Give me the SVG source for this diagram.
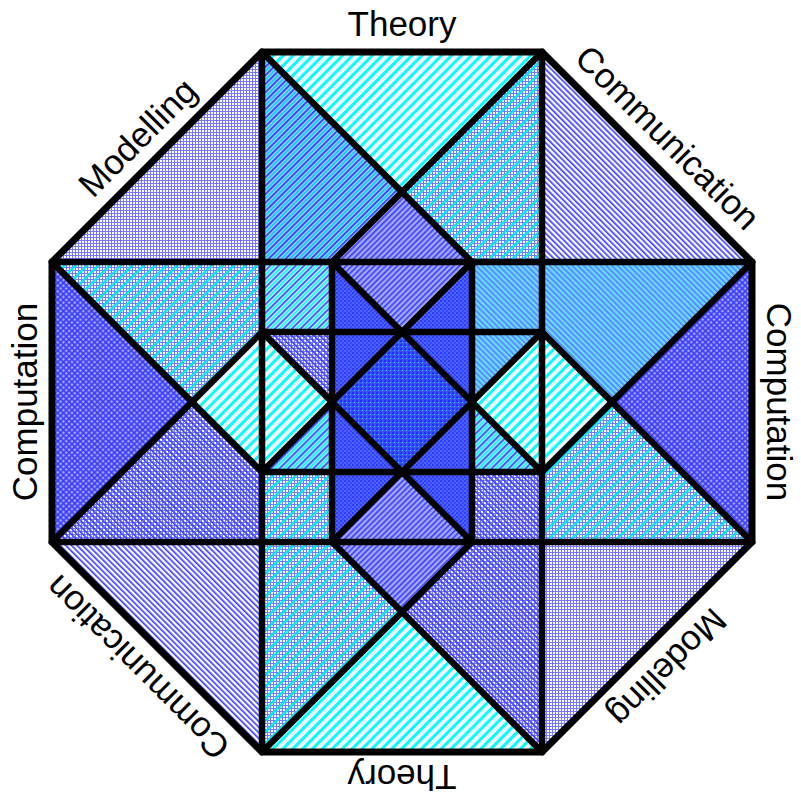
<svg xmlns="http://www.w3.org/2000/svg" xmlns:xlink="http://www.w3.org/1999/xlink" width="801" height="798" viewBox="0 0 801 798">
<style>
.lbl{font-family:"Liberation Sans",Arial,sans-serif;font-size:35px;fill:#000;text-anchor:middle}
.ln{stroke:#000;stroke-width:6.5;stroke-linecap:round;fill:none}
.oct{stroke:#000;stroke-width:7;fill:none;stroke-linejoin:miter}
</style>
<defs>
<pattern id="lav" width="3" height="3" patternUnits="userSpaceOnUse"><rect width="3" height="3" fill="#fff"/><rect width="3" height="1" fill="#7878ff"/><rect width="1" height="3" fill="#7878ff"/></pattern>
<pattern id="sCy" width="7" height="7" patternUnits="userSpaceOnUse" patternTransform="rotate(45)"><rect width="3" height="7" fill="#00ffff"/></pattern>
<pattern id="sCy8" width="8" height="8" patternUnits="userSpaceOnUse" patternTransform="rotate(45)"><rect width="2.5" height="8" fill="#00e8ff"/></pattern>
<pattern id="sBlB" width="4" height="4" patternUnits="userSpaceOnUse" patternTransform="rotate(-45)"><rect width="1.6" height="4" fill="#3a3aff"/></pattern>
<pattern id="sBlF" width="4" height="4" patternUnits="userSpaceOnUse" patternTransform="rotate(45)"><rect width="1.6" height="4" fill="#3a3aff"/></pattern>
<pattern id="sBC" width="6" height="6" patternUnits="userSpaceOnUse" patternTransform="rotate(45)"><rect width="1.8" height="6" fill="#2e58ff"/><rect x="3" width="1.8" height="6" fill="#00ffff"/></pattern>
<pattern id="sBC2" width="6" height="6" patternUnits="userSpaceOnUse" patternTransform="rotate(45)"><rect width="2" height="6" fill="#3050ff"/><rect x="3" width="2" height="6" fill="#10d0ff"/></pattern>
<pattern id="sDk" width="4" height="4" patternUnits="userSpaceOnUse"><rect width="4" height="4" fill="#5062f6"/><rect width="2" height="2" fill="#2a3aff"/><rect x="2" y="2" width="2" height="2" fill="#3446ff"/></pattern>
<pattern id="sDeep" width="4" height="4" patternUnits="userSpaceOnUse"><rect width="4" height="4" fill="#3a4ef4"/><rect width="2" height="2" fill="#2030ff"/><rect x="2" y="2" width="1" height="1" fill="#40c0ff"/></pattern>

<g id="g-cy">
<polygon points="262,52 542,52 402,192"/>
<polygon points="262,752 542,752 402,612"/>
<polygon points="192,402 262,332 262,472"/>
<polygon points="612,402 542,332 542,472"/>
<polygon points="262,332 262,472 332,402"/>
<polygon points="542,332 542,472 472,402"/>
</g>
<g id="g-lav">
<polygon points="262,52 52,262 262,262"/>
<polygon points="752,542 542,752 542,542"/>
</g>
<g id="g-bl">
<polygon points="542,52 752,262 542,262"/>
<polygon points="52,542 262,752 262,542"/>
</g>
<g id="g-lavcy">
<polygon points="542,52 402,192 472,262 542,262"/>
<polygon points="262,752 402,612 332,542 262,542"/>
<polygon points="52,262 192,402 262,332 262,262"/>
<polygon points="752,542 612,402 542,472 542,542"/>
<polygon points="262,472 332,472 332,542 262,542"/>
</g>
<g id="g-bcyd">
<polygon points="262,52 402,192 332,262 262,262"/>
</g>
<g id="g-bcy">
<polygon points="262,262 332,262 332,332 262,332"/>
</g>
<g id="g-blav">
<polygon points="542,752 402,612 472,542 542,542"/>
<polygon points="52,542 192,402 262,472 262,542"/>
<polygon points="472,472 542,472 542,542 472,542"/>
<polygon points="262,332 332,402 332,332"/>
</g>
<g id="g-cyx">
<polygon points="752,262 612,402 542,332 542,262"/>
<polygon points="472,262 542,262 542,332 472,332"/>
<polygon points="542,332 472,402 472,332"/>
</g>
<g id="g-dk">
<polygon points="52,262 52,542 192,402"/>
<polygon points="752,262 752,542 612,402"/>
</g>
<g id="g-wav">
<polygon points="402,192 472,262 332,262"/>
<polygon points="402,612 332,542 472,542"/>
<polygon points="332,262 472,262 402,332"/>
<polygon points="332,542 472,542 402,472"/>
</g>
<g id="g-mid">
<polygon points="262,472 332,402 332,472"/>
<polygon points="542,472 472,402 472,472"/>
</g>
<g id="g-deep">
<polygon points="332,262 402,332 332,332"/>
<polygon points="472,262 402,332 472,332"/>
<polygon points="332,542 402,472 332,472"/>
<polygon points="472,542 402,472 472,472"/>
<polygon points="332,332 402,332 332,402"/>
<polygon points="472,332 402,332 472,402"/>
<polygon points="332,472 332,402 402,472"/>
<polygon points="472,472 472,402 402,472"/>
</g>
<g id="g-center">
<polygon points="402,332 472,402 402,472 332,402"/>
</g>
</defs>

<rect width="801" height="798" fill="#fff"/>

<g id="regions">
<use xlink:href="#g-cy" fill="#f4f8ff"/><use xlink:href="#g-cy" fill="url(#sCy)"/>
<use xlink:href="#g-lav" fill="url(#lav)"/>
<use xlink:href="#g-bl" fill="#fbfbff"/><use xlink:href="#g-bl" fill="url(#sBlB)"/>
<use xlink:href="#g-lavcy" fill="url(#lav)"/><use xlink:href="#g-lavcy" fill="url(#sCy8)"/>
<use xlink:href="#g-bcyd" fill="#c0ccff"/><use xlink:href="#g-bcyd" fill="url(#sBC2)"/>
<use xlink:href="#g-bcy" fill="#e2e8ff"/><use xlink:href="#g-bcy" fill="url(#sBC)"/>
<use xlink:href="#g-blav" fill="url(#lav)"/><use xlink:href="#g-blav" fill="url(#sBlB)"/>
<use xlink:href="#g-cyx" fill="#6cd8ff"/><use xlink:href="#g-cyx" fill="url(#sBlB)" opacity="0.55"/>
<use xlink:href="#g-dk" fill="#a0a8ff"/><use xlink:href="#g-dk" fill="url(#sBlB)"/><use xlink:href="#g-dk" fill="url(#sBlF)"/>
<use xlink:href="#g-wav" fill="#a2aaff"/><use xlink:href="#g-wav" fill="url(#sBlF)"/>
<use xlink:href="#g-mid" fill="#c0dcff"/><use xlink:href="#g-mid" fill="url(#sBC)"/>
<use xlink:href="#g-deep" fill="url(#sDk)"/>
<use xlink:href="#g-center" fill="url(#sDeep)"/>
</g>

<g id="connectors">
<line class="ln" x1="262" y1="52" x2="262" y2="752"/>
<line class="ln" x1="542" y1="52" x2="542" y2="752"/>
<line class="ln" x1="52" y1="262" x2="752" y2="262"/>
<line class="ln" x1="52" y1="542" x2="752" y2="542"/>
<line class="ln" x1="332" y1="262" x2="332" y2="542"/>
<line class="ln" x1="472" y1="262" x2="472" y2="542"/>
<line class="ln" x1="262" y1="332" x2="542" y2="332"/>
<line class="ln" x1="262" y1="472" x2="542" y2="472"/>
<line class="ln" x1="262" y1="52" x2="472" y2="262"/>
<line class="ln" x1="542" y1="52" x2="332" y2="262"/>
<line class="ln" x1="752" y1="262" x2="542" y2="472"/>
<line class="ln" x1="752" y1="542" x2="542" y2="332"/>
<line class="ln" x1="542" y1="752" x2="332" y2="542"/>
<line class="ln" x1="262" y1="752" x2="472" y2="542"/>
<line class="ln" x1="52" y1="542" x2="262" y2="332"/>
<line class="ln" x1="52" y1="262" x2="262" y2="472"/>
<line class="ln" x1="332" y1="262" x2="542" y2="472"/>
<line class="ln" x1="472" y1="262" x2="262" y2="472"/>
<line class="ln" x1="542" y1="332" x2="332" y2="542"/>
<line class="ln" x1="262" y1="332" x2="472" y2="542"/>
<polygon class="oct" points="262,52 542,52 752,262 752,542 542,752 262,752 52,542 52,262"/>
</g>

<g id="labels">
<text class="lbl" x="402" y="36">Theory</text>
<text class="lbl" transform="translate(402,765) rotate(180)">Theory</text>
<text class="lbl" transform="translate(37,402) rotate(-90)">Computation</text>
<text class="lbl" transform="translate(767,402) rotate(90)">Computation</text>
<text class="lbl" transform="translate(146,146) rotate(-45)">Modelling</text>
<text class="lbl" transform="translate(659,659) rotate(135)">Modelling</text>
<text class="lbl" transform="translate(659,146) rotate(45)">Communication</text>
<text class="lbl" transform="translate(146,659) rotate(-135)">Communication</text>
</g>
</svg>
